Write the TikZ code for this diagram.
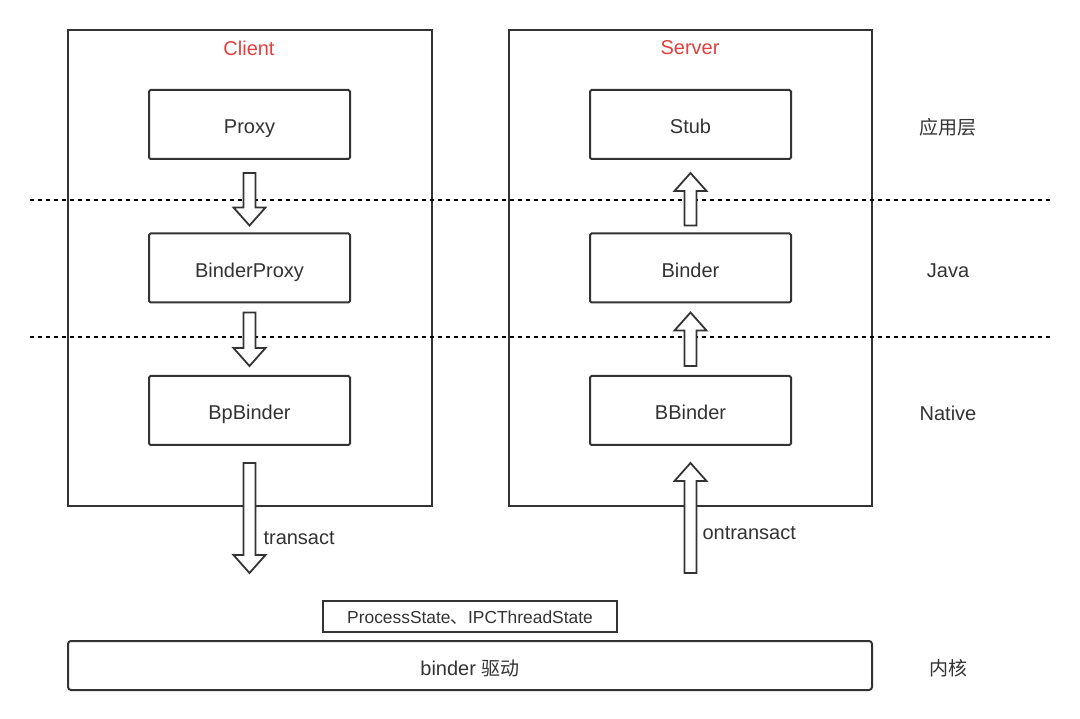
\documentclass[tikz,border=0pt]{standalone}
\usepackage{fontspec}
\setmainfont{Liberation Sans}
\newfontfamily\cjk{Noto Sans CJK SC}
\usetikzlibrary{calc}
\definecolor{ink}{HTML}{333333}
\definecolor{redtitle}{HTML}{E2403F}
\newcommand\harrow[2]{%
  \draw[hollowarrow] let \p1=(#1), \p2=(#2), \n1={ifthenelse(\y2>\y1,1,-1)} in
    (\x1-6pt,\y1) -- (\x1-6pt,\y2-\n1*18pt) -- (\x1-16pt,\y2-\n1*18pt) -- (\x1,\y2)
    -- (\x1+16pt,\y2-\n1*18pt) -- (\x1+6pt,\y2-\n1*18pt) -- (\x1+6pt,\y1) -- cycle;}
\begin{document}
\begin{tikzpicture}[x=1pt,y=-1pt,
  box/.style={draw=ink, line width=2pt, rounded corners=1.5pt, inner sep=0pt, font=\fontsize{20}{22}\selectfont, text=ink, text height=19pt, text depth=0pt},
  outer/.style={draw=ink, line width=2pt, inner sep=0pt},
  title/.style={font=\fontsize{20}{22}\selectfont, text=redtitle},
  layer/.style={font=\fontsize{20}{22}\selectfont, text=ink},
  lbl/.style={font=\fontsize{20}{22}\selectfont, text=ink, anchor=west},
  hollowarrow/.style={draw=ink, line width=1.8pt, fill=white, line join=miter},
  sep/.style={draw=black, line width=1.3pt, dash pattern=on 4pt off 4pt}]
\fill[white] (0,0) rectangle (1080,719);
\useasboundingbox (0,0) rectangle (1080,719);
% outer boxes
\node[outer, minimum width=364pt, minimum height=476pt] (client) at (250,268) {};
\node[outer, minimum width=363pt, minimum height=476pt] (server) at (690.5,268) {};
\node[title] (clientT) at (249,48) {Client};
\node[title] (serverT) at (690,48) {Server};
% inner boxes
\node[box, minimum width=201pt, minimum height=69pt] (proxy) at (249.5,124.5) {Proxy};
\node[box, minimum width=201pt, minimum height=69pt] (bproxy) at (249.5,268) {BinderProxy};
\node[box, minimum width=201pt, minimum height=69pt] (bp) at (249.5,410.5) {BpBinder};
\node[box, minimum width=201pt, minimum height=69pt] (stub) at (690.5,124.5) {Stub};
\node[box, minimum width=201pt, minimum height=69pt] (binder) at (690.5,268) {Binder};
\node[box, minimum width=201pt, minimum height=69pt] (bb) at (690.5,410.5) {BBinder};
% separators
\coordinate (d1a) at (30,200); \coordinate (d1b) at (1050,200);
\coordinate (d2a) at (30,337); \coordinate (d2b) at (1050,337);
\draw[sep] (d1a) -- (d1b);
\draw[sep] (d2a) -- (d2b);
% layer labels
\node[layer] (l1) at (948,127) {\cjk\fontsize{19}{22}\selectfont 应用层};
\node[layer] (l2) at (948,271) {Java};
\node[layer] (l3) at (948,413) {Native};
\node[layer] (l4) at (948,668) {\cjk\fontsize{19}{22}\selectfont 内核};
% bottom boxes
\node[box, line width=1.8pt, rounded corners=0pt, minimum width=294pt, minimum height=31pt, text height=14pt, font=\fontsize{17.4}{19}\selectfont] (ps) at (470,616.5) {ProcessState{\cjk 、}IPCThreadState};
\node[box, minimum width=804pt, minimum height=49pt, rounded corners=3pt] (drv) at (470,665.5) {binder {\cjk\fontsize{19}{22}\selectfont 驱动}};
% arrows client
\coordinate (a1s) at ($(proxy.south)+(0,13)$);
\coordinate (a1e) at ($(bproxy.north)+(0,-7)$);
\harrow{a1s}{a1e}
\coordinate (a2s) at ($(bproxy.south)+(0,9)$);
\coordinate (a2e) at ($(bp.north)+(0,-9)$);
\harrow{a2s}{a2e}
\coordinate (a3s) at ($(bp.south)+(0,17)$);
\coordinate (a3e) at ($(bp.south)+(0,127)$);
\harrow{a3s}{a3e}
\node[lbl] (tr) at (260,538) {transact};
% arrows server
\coordinate (b1s) at ($(binder.north)+(0,-7)$);
\coordinate (b1e) at ($(stub.south)+(0,13)$);
\harrow{b1s}{b1e}
\coordinate (b2s) at ($(bb.north)+(0,-9)$);
\coordinate (b2e) at ($(binder.south)+(0,9)$);
\harrow{b2s}{b2e}
\coordinate (b3s) at ($(bb.south)+(0,127)$);
\coordinate (b3e) at ($(bb.south)+(0,17)$);
\harrow{b3s}{b3e}
\node[lbl] (otr) at (699,533) {ontransact};
\end{tikzpicture}
\end{document}
